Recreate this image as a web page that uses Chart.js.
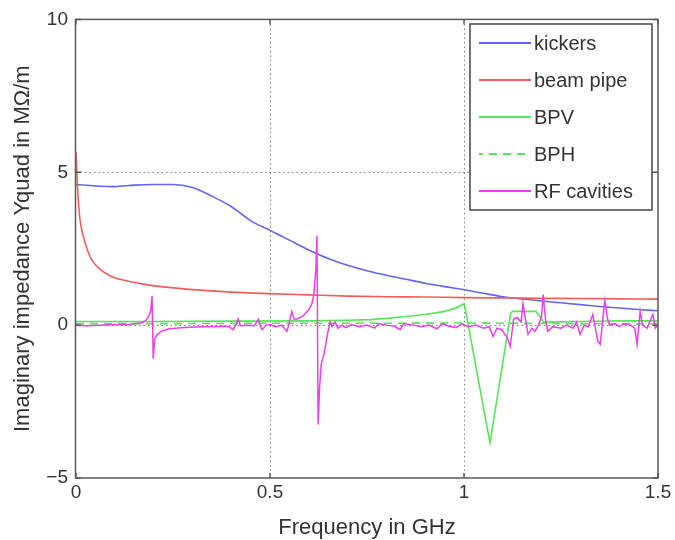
<!DOCTYPE html>
<html>
<head>
<meta charset="utf-8">
<title>Imaginary impedance Yquad</title>
<script src="https://cdn.jsdelivr.net/npm/chart.js@4.4.1/dist/chart.umd.min.js"></script>
<style>
    html, body { margin: 0; padding: 0; background: #fff; }
    #wrap { width: 675px; height: 540px; }
</style>
</head>
<body>
<div id="wrap"><canvas id="impedanceChart" width="675" height="540"></canvas></div>
<script>
// Frequency in GHz, impedance in MOhm/m
const kickerFreq = [0, 0.05, 0.1, 0.15, 0.2, 0.25, 0.3, 0.35, 0.4, 0.45, 0.5, 0.55, 0.6, 0.65, 0.7, 0.75,
    0.8, 0.85, 0.9, 0.95, 1.0, 1.05, 1.1, 1.15, 1.2, 1.25, 1.3, 1.35, 1.4, 1.45, 1.5];
const kickerImag = [4.6, 4.55, 4.53, 4.58, 4.6, 4.6, 4.5, 4.22, 3.88, 3.42, 3.1, 2.78, 2.46, 2.18, 1.96, 1.78,
    1.63, 1.5, 1.37, 1.26, 1.16, 1.04, 0.93, 0.86, 0.79, 0.73, 0.67, 0.61, 0.56, 0.51, 0.47];

const pipeFreq = [0, 0.004, 0.008, 0.012, 0.018, 0.027, 0.04, 0.06, 0.09, 0.13, 0.17, 0.22, 0.3, 0.4, 0.5,
    0.6, 0.7, 0.8, 0.9, 1.0, 1.1, 1.2, 1.3, 1.4, 1.5];
const pipeImag = [5.65, 4.5, 3.75, 3.3, 2.95, 2.55, 2.15, 1.85, 1.6, 1.45, 1.35, 1.26, 1.16, 1.08, 1.03,
    0.99, 0.95, 0.93, 0.92, 0.9, 0.89, 0.88, 0.87, 0.86, 0.85];

const bpvFreq = [0, 0.2, 0.4, 0.6, 0.7, 0.76, 0.8, 0.85, 0.9, 0.95, 0.98, 1.0, 1.003, 1.067, 1.12, 1.125,
    1.185, 1.195, 1.205, 1.3, 1.4, 1.5];
const bpvImag = [0.12, 0.12, 0.13, 0.14, 0.16, 0.18, 0.22, 0.28, 0.35, 0.45, 0.56, 0.7, 0.55, -3.85, 0.37, 0.45,
    0.45, 0.3, 0.1, 0.12, 0.14, 0.14];

const bphFreq = [0, 0.25, 0.5, 0.75, 1.0, 1.25, 1.5];
const bphImag = [0.05, 0.05, 0.06, 0.06, 0.07, 0.05, 0.04];

const rfFreq = [0, 0.03, 0.06, 0.1, 0.14, 0.17, 0.18, 0.188, 0.193, 0.196, 0.199, 0.203, 0.21, 0.22, 0.24,
    0.28, 0.33, 0.38, 0.395, 0.405, 0.412, 0.418, 0.424, 0.44, 0.46, 0.47, 0.476, 0.48, 0.49, 0.5,
    0.515, 0.53, 0.544, 0.55, 0.556, 0.562, 0.57, 0.585, 0.6, 0.608, 0.613, 0.618, 0.621, 0.624, 0.628,
    0.632, 0.64, 0.648, 0.655, 0.66, 0.668, 0.675, 0.685, 0.695, 0.71, 0.73, 0.75, 0.77, 0.78, 0.8,
    0.82, 0.835, 0.845, 0.87, 0.89, 0.91, 0.93, 0.945, 0.96, 0.98, 0.995, 1.01, 1.03, 1.05, 1.065,
    1.075, 1.085, 1.098, 1.105, 1.111, 1.119, 1.128, 1.137, 1.147, 1.152, 1.157, 1.165, 1.175, 1.183, 1.192,
    1.2, 1.204, 1.21, 1.216, 1.229, 1.25, 1.265, 1.281, 1.29, 1.299, 1.31, 1.32, 1.332, 1.338, 1.345,
    1.351, 1.357, 1.363, 1.37, 1.376, 1.39, 1.4, 1.415, 1.43, 1.44, 1.446, 1.454, 1.46, 1.472, 1.478,
    1.487, 1.493, 1.5];
const rfImag = [0.0, -0.02, 0.0, 0.02, 0.03, 0.08, 0.15, 0.3, 0.5, 0.95, -1.1, -0.45, -0.3, -0.2, -0.12,
    -0.08, -0.05, -0.04, -0.05, -0.15, 0.0, 0.2, -0.02, 0.0, -0.02, 0.2, -0.05, -0.15, 0.0, 0.02,
    -0.05, 0.0, -0.2, 0.1, 0.44, 0.2, 0.2, 0.3, 0.5, 0.7, 1.0, 1.8, 2.93, -3.25, -2.0,
    -1.28, -0.9, -0.3, 0.1, -0.05, 0.1, -0.1, 0.0, -0.08, 0.02, -0.05, 0.0, -0.1, 0.05, 0.0,
    -0.03, -0.15, 0.05, 0.0, -0.05, 0.0, -0.12, 0.05, -0.03, -0.08, 0.05, -0.05, 0.0, -0.1, -0.05,
    -0.37, -0.1, -0.15, -0.3, -0.4, -0.7, 0.2, 0.25, 0.1, 0.7, 0.3, -0.3, -0.1, -0.2, 0.0,
    0.3, 1.0, 0.2, -0.2, -0.05, -0.1, 0.0, -0.1, 0.1, -0.3, 0.0, -0.05, 0.35, -0.05, -0.53,
    -0.63, 0.1, 0.8, 0.2, 0.0, 0.05, -0.05, 0.05, 0.0, -0.1, -0.63, 0.44, 0.0, -0.1, 0.1,
    0.35, -0.1, 0.0];

const xTicks = [0, 0.5, 1, 1.5];
const yTicks = [-5, 0, 5, 10];

const FONT = '"Liberation Sans", Arial, Helvetica, sans-serif';

// Turn two arrays into {x, y} points
function toPoints(freq, imag) {
    return freq.map((f, i) => ({ x: f, y: imag[i] }));
}

// Matlab style box with inward ticks, drawn over the lines
const frameBox = {
    id: 'frameBox',
    afterDatasetsDraw(chart) {
        const { ctx, chartArea: a, scales } = chart;
        ctx.save();
        ctx.strokeStyle = '#5a5a5a';
        ctx.lineWidth = 1.5;
        ctx.setLineDash([]);
        ctx.beginPath();
        xTicks.forEach(t => {
            const px = scales.x.getPixelForValue(t);
            ctx.moveTo(px, a.bottom); ctx.lineTo(px, a.bottom - 5);
            ctx.moveTo(px, a.top); ctx.lineTo(px, a.top + 5);
        });
        yTicks.forEach(t => {
            const py = scales.y.getPixelForValue(t);
            ctx.moveTo(a.left, py); ctx.lineTo(a.left + 5, py);
            ctx.moveTo(a.right, py); ctx.lineTo(a.right - 5, py);
        });
        ctx.stroke();
        ctx.strokeRect(a.left - 0.5, a.top, a.right - a.left + 0.5, a.bottom - a.top);
        ctx.restore();
    }
};

// Legend box in the upper right corner of the axes
const boxLegend = {
    id: 'boxLegend',
    afterDraw(chart) {
        const ctx = chart.ctx;
        const x0 = 470, y0 = 24, w = 182, h = 186;
        ctx.save();
        ctx.fillStyle = '#fff';
        ctx.fillRect(x0, y0, w, h);
        ctx.strokeStyle = '#444';
        ctx.lineWidth = 1.5;
        ctx.strokeRect(x0, y0, w, h);
        ctx.font = '20px ' + FONT;
        ctx.textBaseline = 'middle';
        chart.data.datasets.forEach((ds, i) => {
            const y = 43 + i * 37;
            ctx.strokeStyle = ds.borderColor;
            ctx.lineWidth = 2;
            ctx.setLineDash(ds.borderDash || []);
            ctx.lineDashOffset = ds.borderDash ? 4 : 0;
            ctx.beginPath();
            ctx.moveTo(479, y);
            ctx.lineTo(531, y);
            ctx.stroke();
            ctx.setLineDash([]);
            ctx.fillStyle = '#333';
            ctx.fillText(ds.label, 534, y + 1);
        });
        ctx.restore();
    }
};

function makeChart() {
    const ctx = document.getElementById('impedanceChart').getContext('2d');

    new Chart(ctx, {
        type: 'line',
        data: {
            datasets: [
                {
                    label: 'kickers',
                    data: toPoints(kickerFreq, kickerImag),
                    borderColor: '#6464f4',
                    borderWidth: 1.6,
                    cubicInterpolationMode: 'monotone',
                    order: 5
                },
                {
                    label: 'beam pipe',
                    data: toPoints(pipeFreq, pipeImag),
                    borderColor: '#f45c5c',
                    borderWidth: 1.6,
                    cubicInterpolationMode: 'monotone',
                    order: 4
                },
                {
                    label: 'BPV',
                    data: toPoints(bpvFreq, bpvImag),
                    borderColor: '#55e655',
                    borderWidth: 1.6,
                    order: 3
                },
                {
                    label: 'BPH',
                    data: toPoints(bphFreq, bphImag),
                    borderColor: '#55e655',
                    borderWidth: 1.6,
                    borderDash: [8, 6],
                    order: 2
                },
                {
                    label: 'RF cavities',
                    data: toPoints(rfFreq, rfImag),
                    borderColor: '#f03cf0',
                    borderWidth: 1.5,
                    order: 1
                }
            ]
        },
        options: {
            responsive: false,
            animation: false,
            parsing: false,
            elements: { point: { radius: 0 }, line: { tension: 0, fill: false } },
            layout: { padding: { left: 0, right: 17, top: 15, bottom: 0 } },
            plugins: {
                legend: { display: false },
                tooltip: { enabled: false }
            },
            scales: {
                x: {
                    type: 'linear',
                    min: 0,
                    max: 1.5,
                    afterBuildTicks: scale => { scale.ticks = xTicks.map(v => ({ value: v })); },
                    afterFit: scale => { scale.height = 62; },
                    ticks: {
                        padding: 3,
                        maxRotation: 0,
                        color: '#333',
                        font: { family: FONT, size: 19 },
                        callback: value => String(value)
                    },
                    grid: {
                        drawTicks: false,
                        lineWidth: 1,
                        color: c => (c.tick && (c.tick.value === 0 || c.tick.value === 1.5)) ? 'rgba(0,0,0,0)' : '#808080'
                    },
                    border: { display: false, dash: [1.5, 3] },
                    title: {
                        display: true,
                        text: 'Frequency in GHz',
                        color: '#333',
                        font: { family: FONT, size: 22 },
                        padding: { top: 0, bottom: -1 }
                    }
                },
                y: {
                    type: 'linear',
                    min: -5,
                    max: 10,
                    afterBuildTicks: scale => { scale.ticks = yTicks.map(v => ({ value: v })); },
                    afterFit: scale => { scale.width = 76; },
                    ticks: {
                        padding: 8,
                        color: '#333',
                        font: { family: FONT, size: 19 },
                        callback: value => String(value).replace('-', '\u2212')
                    },
                    grid: {
                        drawTicks: false,
                        lineWidth: 1,
                        color: c => (c.tick && (c.tick.value === -5 || c.tick.value === 10)) ? 'rgba(0,0,0,0)' : '#808080'
                    },
                    border: { display: false, dash: [1.5, 3] },
                    title: {
                        display: true,
                        text: 'Imaginary impedance Yquad in M\u03A9/m',
                        color: '#333',
                        font: { family: FONT, size: 22 },
                        padding: { top: 10, bottom: 0 }
                    }
                }
            }
        },
        plugins: [frameBox, boxLegend]
    });
}

document.addEventListener('DOMContentLoaded', () => {
    makeChart();
});
</script>
</body>
</html>
